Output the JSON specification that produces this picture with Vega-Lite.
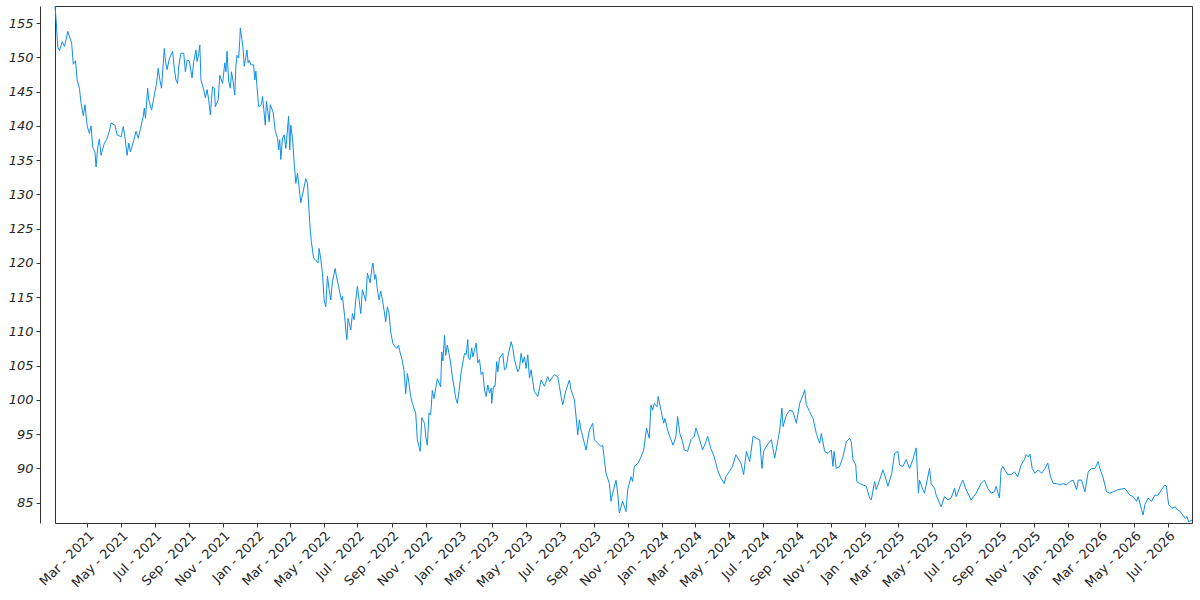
{
  "$schema": "https://vega.github.io/schema/vega-lite/v6.json",
  "width": 1137,
  "height": 517,
  "autosize": {"type": "none"},
  "padding": {"left": 55, "top": 6, "right": 8, "bottom": 77},
  "background": "white",
  "config": {
    "view": {"stroke": "#333333", "strokeWidth": 1},
    "font": "DejaVu Sans",
    "axis": {"grid": false, "labelFont": "DejaVu Sans", "labelColor": "#262626", "labelFontSize": 12, "tickColor": "#333333", "domainColor": "#333333"}
  },
  "data": {"values": [
    {"date":"2021-01-02","value":157.5},{"date":"2021-01-04","value":155.5},{"date":"2021-01-07","value":151.5},{"date":"2021-01-10","value":151.0},{"date":"2021-01-15","value":152.3},{"date":"2021-01-19","value":151.6},{"date":"2021-01-22","value":152.6},{"date":"2021-01-25","value":153.8},
    {"date":"2021-02-01","value":152.1},{"date":"2021-02-04","value":149.0},{"date":"2021-02-08","value":149.5},{"date":"2021-02-11","value":146.7},{"date":"2021-02-15","value":145.5},{"date":"2021-02-18","value":143.3},{"date":"2021-02-22","value":141.5},{"date":"2021-02-25","value":143.1},
    {"date":"2021-03-01","value":140.0},{"date":"2021-03-05","value":138.9},{"date":"2021-03-08","value":140.0},{"date":"2021-03-11","value":136.9},{"date":"2021-03-15","value":136.2},{"date":"2021-03-17","value":134.0},{"date":"2021-03-20","value":136.9},{"date":"2021-03-23","value":138.1},{"date":"2021-03-26","value":135.7},
    {"date":"2021-04-01","value":137.5},{"date":"2021-04-05","value":138.0},{"date":"2021-04-10","value":139.2},{"date":"2021-04-13","value":140.4},{"date":"2021-04-20","value":140.1},{"date":"2021-04-24","value":138.7},
    {"date":"2021-05-01","value":138.4},{"date":"2021-05-05","value":139.9},{"date":"2021-05-08","value":138.4},{"date":"2021-05-12","value":135.7},{"date":"2021-05-15","value":137.5},{"date":"2021-05-18","value":136.2},{"date":"2021-05-24","value":137.9},{"date":"2021-05-28","value":139.2},
    {"date":"2021-06-01","value":138.2},{"date":"2021-06-05","value":139.6},{"date":"2021-06-10","value":141.4},{"date":"2021-06-12","value":142.6},{"date":"2021-06-14","value":141.1},{"date":"2021-06-18","value":145.5},{"date":"2021-06-20","value":143.8},{"date":"2021-06-25","value":142.3},{"date":"2021-06-30","value":144.5},
    {"date":"2021-07-04","value":146.2},{"date":"2021-07-07","value":148.4},{"date":"2021-07-10","value":146.7},{"date":"2021-07-13","value":145.5},{"date":"2021-07-18","value":151.3},{"date":"2021-07-20","value":149.5},{"date":"2021-07-23","value":148.2},{"date":"2021-07-27","value":149.8},
    {"date":"2021-08-02","value":150.9},{"date":"2021-08-05","value":148.4},{"date":"2021-08-08","value":146.7},{"date":"2021-08-11","value":146.2},{"date":"2021-08-13","value":148.7},{"date":"2021-08-17","value":150.6},{"date":"2021-08-22","value":150.6},{"date":"2021-08-25","value":147.9},{"date":"2021-08-28","value":149.6},
    {"date":"2021-09-01","value":149.5},{"date":"2021-09-06","value":147.0},{"date":"2021-09-09","value":149.4},{"date":"2021-09-13","value":151.1},{"date":"2021-09-15","value":149.4},{"date":"2021-09-18","value":150.6},{"date":"2021-09-20","value":151.8},{"date":"2021-09-22","value":146.7},{"date":"2021-09-27","value":145.3},{"date":"2021-09-30","value":144.1},
    {"date":"2021-10-03","value":145.3},{"date":"2021-10-06","value":143.8},{"date":"2021-10-09","value":141.6},{"date":"2021-10-11","value":143.8},{"date":"2021-10-13","value":145.7},{"date":"2021-10-16","value":145.5},{"date":"2021-10-18","value":142.8},{"date":"2021-10-23","value":143.8},{"date":"2021-10-26","value":147.4},{"date":"2021-10-31","value":146.2},
    {"date":"2021-11-04","value":149.2},{"date":"2021-11-06","value":147.9},{"date":"2021-11-08","value":150.9},{"date":"2021-11-11","value":146.5},{"date":"2021-11-14","value":145.5},{"date":"2021-11-16","value":147.9},{"date":"2021-11-19","value":146.5},{"date":"2021-11-22","value":144.5},{"date":"2021-11-24","value":148.7},{"date":"2021-11-26","value":150.3},{"date":"2021-11-29","value":149.9},
    {"date":"2021-12-01","value":152.6},{"date":"2021-12-02","value":154.3},{"date":"2021-12-05","value":152.6},{"date":"2021-12-07","value":151.1},{"date":"2021-12-09","value":148.7},{"date":"2021-12-11","value":149.6},{"date":"2021-12-14","value":151.1},{"date":"2021-12-16","value":149.2},{"date":"2021-12-18","value":149.6},{"date":"2021-12-21","value":148.9},{"date":"2021-12-26","value":148.9},{"date":"2021-12-28","value":146.7},{"date":"2021-12-30","value":148.0},
    {"date":"2022-01-01","value":145.7},{"date":"2022-01-04","value":142.8},{"date":"2022-01-09","value":143.1},{"date":"2022-01-11","value":144.3},{"date":"2022-01-16","value":140.1},{"date":"2022-01-18","value":143.6},{"date":"2022-01-23","value":140.6},{"date":"2022-01-25","value":143.1},{"date":"2022-01-30","value":142.0},
    {"date":"2022-02-03","value":139.2},{"date":"2022-02-07","value":138.2},{"date":"2022-02-09","value":136.5},{"date":"2022-02-11","value":138.0},{"date":"2022-02-13","value":135.1},{"date":"2022-02-16","value":138.2},{"date":"2022-02-19","value":138.7},{"date":"2022-02-22","value":136.7},{"date":"2022-02-27","value":141.4},
    {"date":"2022-03-01","value":136.5},{"date":"2022-03-03","value":140.1},{"date":"2022-03-06","value":138.2},{"date":"2022-03-09","value":134.6},{"date":"2022-03-12","value":131.6},{"date":"2022-03-15","value":133.1},{"date":"2022-03-21","value":128.8},{"date":"2022-03-27","value":131.1},{"date":"2022-03-30","value":132.3},
    {"date":"2022-04-02","value":131.6},{"date":"2022-04-05","value":127.3},{"date":"2022-04-07","value":124.8},{"date":"2022-04-09","value":123.1},{"date":"2022-04-13","value":120.7},{"date":"2022-04-16","value":120.5},{"date":"2022-04-21","value":120.0},{"date":"2022-04-23","value":122.1},{"date":"2022-04-26","value":120.5},{"date":"2022-04-29","value":118.5},
    {"date":"2022-05-02","value":114.6},{"date":"2022-05-05","value":113.6},{"date":"2022-05-08","value":118.1},{"date":"2022-05-11","value":116.1},{"date":"2022-05-14","value":114.6},{"date":"2022-05-17","value":117.3},{"date":"2022-05-22","value":119.2},{"date":"2022-05-24","value":118.1},{"date":"2022-05-28","value":116.6},
    {"date":"2022-06-02","value":114.6},{"date":"2022-06-04","value":115.1},{"date":"2022-06-08","value":112.2},{"date":"2022-06-10","value":110.2},{"date":"2022-06-12","value":108.8},{"date":"2022-06-14","value":111.9},{"date":"2022-06-19","value":110.2},{"date":"2022-06-22","value":112.6},{"date":"2022-06-25","value":111.7},{"date":"2022-06-28","value":114.6},
    {"date":"2022-07-01","value":116.6},{"date":"2022-07-04","value":114.6},{"date":"2022-07-07","value":112.6},{"date":"2022-07-10","value":116.1},{"date":"2022-07-16","value":114.4},{"date":"2022-07-19","value":118.5},{"date":"2022-07-24","value":117.1},{"date":"2022-07-27","value":119.2},{"date":"2022-07-29","value":120.0},
    {"date":"2022-08-01","value":117.6},{"date":"2022-08-03","value":118.3},{"date":"2022-08-06","value":116.1},{"date":"2022-08-09","value":114.6},{"date":"2022-08-12","value":115.9},{"date":"2022-08-15","value":114.6},{"date":"2022-08-18","value":113.1},{"date":"2022-08-21","value":111.4},{"date":"2022-08-24","value":113.6},{"date":"2022-08-27","value":112.6},{"date":"2022-08-30","value":109.9},
    {"date":"2022-09-03","value":108.2},{"date":"2022-09-10","value":107.5},{"date":"2022-09-13","value":108.0},{"date":"2022-09-15","value":107.2},{"date":"2022-09-20","value":105.7},{"date":"2022-09-23","value":104.3},{"date":"2022-09-26","value":100.9},{"date":"2022-09-29","value":103.9},
    {"date":"2022-10-02","value":102.4},{"date":"2022-10-05","value":100.5},{"date":"2022-10-08","value":99.5},{"date":"2022-10-14","value":98.1},{"date":"2022-10-17","value":94.2},{"date":"2022-10-20","value":93.2},{"date":"2022-10-22","value":92.5},{"date":"2022-10-25","value":97.4},{"date":"2022-10-30","value":96.6},
    {"date":"2022-11-01","value":94.7},{"date":"2022-11-04","value":93.4},{"date":"2022-11-07","value":98.1},{"date":"2022-11-10","value":97.8},{"date":"2022-11-13","value":101.4},{"date":"2022-11-16","value":100.2},{"date":"2022-11-22","value":103.1},{"date":"2022-11-28","value":101.9},{"date":"2022-11-30","value":107.0},
    {"date":"2022-12-02","value":105.7},{"date":"2022-12-05","value":109.4},{"date":"2022-12-07","value":106.5},{"date":"2022-12-10","value":108.0},{"date":"2022-12-13","value":106.8},{"date":"2022-12-16","value":105.4},{"date":"2022-12-19","value":103.4},{"date":"2022-12-22","value":102.0},{"date":"2022-12-25","value":100.3},{"date":"2022-12-28","value":99.5},{"date":"2022-12-31","value":101.2},
    {"date":"2023-01-04","value":104.1},{"date":"2023-01-08","value":105.9},{"date":"2023-01-10","value":106.8},{"date":"2023-01-13","value":106.6},{"date":"2023-01-16","value":108.8},{"date":"2023-01-17","value":106.1},{"date":"2023-01-20","value":105.9},{"date":"2023-01-23","value":107.6},{"date":"2023-01-25","value":106.3},{"date":"2023-01-31","value":108.3},
    {"date":"2023-02-03","value":105.4},{"date":"2023-02-06","value":105.9},{"date":"2023-02-09","value":103.7},{"date":"2023-02-12","value":104.1},{"date":"2023-02-15","value":101.5},{"date":"2023-02-18","value":100.5},{"date":"2023-02-21","value":102.2},{"date":"2023-02-24","value":101.0},{"date":"2023-02-27","value":101.7},{"date":"2023-02-28","value":99.5},
    {"date":"2023-03-03","value":102.0},{"date":"2023-03-06","value":102.0},{"date":"2023-03-09","value":105.6},{"date":"2023-03-11","value":104.1},{"date":"2023-03-14","value":106.1},{"date":"2023-03-20","value":106.8},{"date":"2023-03-23","value":104.4},{"date":"2023-03-26","value":104.6},{"date":"2023-03-29","value":106.3},
    {"date":"2023-04-04","value":108.5},{"date":"2023-04-07","value":107.6},{"date":"2023-04-10","value":105.9},{"date":"2023-04-16","value":104.1},{"date":"2023-04-19","value":104.6},{"date":"2023-04-22","value":106.8},{"date":"2023-04-25","value":105.4},{"date":"2023-04-28","value":106.3},
    {"date":"2023-05-01","value":104.6},{"date":"2023-05-04","value":106.6},{"date":"2023-05-07","value":103.2},{"date":"2023-05-10","value":104.4},{"date":"2023-05-13","value":102.7},{"date":"2023-05-16","value":101.2},{"date":"2023-05-22","value":100.5},{"date":"2023-05-28","value":102.9},
    {"date":"2023-06-03","value":102.0},{"date":"2023-06-09","value":103.4},{"date":"2023-06-12","value":102.7},{"date":"2023-06-21","value":103.7},{"date":"2023-06-27","value":103.4},{"date":"2023-06-30","value":102.0},
    {"date":"2023-07-03","value":100.5},{"date":"2023-07-06","value":99.3},{"date":"2023-07-12","value":101.5},{"date":"2023-07-18","value":102.9},{"date":"2023-07-21","value":101.5},{"date":"2023-07-27","value":100.0},{"date":"2023-07-30","value":97.6},
    {"date":"2023-08-02","value":94.9},{"date":"2023-08-05","value":97.1},{"date":"2023-08-08","value":95.6},{"date":"2023-08-14","value":93.7},{"date":"2023-08-17","value":92.7},{"date":"2023-08-23","value":95.6},{"date":"2023-08-29","value":96.6},
    {"date":"2023-09-01","value":94.2},{"date":"2023-09-07","value":93.7},{"date":"2023-09-13","value":93.2},{"date":"2023-09-16","value":93.4},{"date":"2023-09-19","value":91.3},{"date":"2023-09-22","value":89.3},{"date":"2023-09-28","value":87.8},
    {"date":"2023-10-01","value":85.2},{"date":"2023-10-04","value":86.4},{"date":"2023-10-10","value":88.3},{"date":"2023-10-13","value":86.4},{"date":"2023-10-16","value":83.5},{"date":"2023-10-22","value":85.2},{"date":"2023-10-28","value":83.7},{"date":"2023-10-31","value":86.9},
    {"date":"2023-11-06","value":88.8},{"date":"2023-11-09","value":88.1},{"date":"2023-11-12","value":90.3},{"date":"2023-11-19","value":90.8},{"date":"2023-11-24","value":91.7},{"date":"2023-11-29","value":92.7},
    {"date":"2023-12-04","value":95.9},{"date":"2023-12-09","value":94.4},{"date":"2023-12-12","value":99.3},{"date":"2023-12-15","value":98.5},{"date":"2023-12-18","value":99.5},{"date":"2023-12-23","value":99.0},{"date":"2023-12-25","value":100.5},{"date":"2023-12-30","value":98.5},
    {"date":"2024-01-04","value":96.6},{"date":"2024-01-06","value":97.3},{"date":"2024-01-11","value":95.6},{"date":"2024-01-16","value":94.4},{"date":"2024-01-21","value":93.4},{"date":"2024-01-26","value":94.7},{"date":"2024-01-29","value":97.6},
    {"date":"2024-02-02","value":95.1},{"date":"2024-02-07","value":93.9},{"date":"2024-02-10","value":92.7},{"date":"2024-02-16","value":92.5},{"date":"2024-02-22","value":94.2},{"date":"2024-02-28","value":94.7},
    {"date":"2024-03-02","value":95.9},{"date":"2024-03-08","value":94.4},{"date":"2024-03-14","value":92.7},{"date":"2024-03-20","value":93.9},{"date":"2024-03-23","value":94.7},{"date":"2024-03-29","value":92.9},
    {"date":"2024-04-04","value":91.7},{"date":"2024-04-10","value":89.8},{"date":"2024-04-16","value":88.6},{"date":"2024-04-22","value":87.8},{"date":"2024-04-25","value":88.8},
    {"date":"2024-05-01","value":89.5},{"date":"2024-05-07","value":90.3},{"date":"2024-05-13","value":92.0},{"date":"2024-05-22","value":90.8},{"date":"2024-05-27","value":89.1},
    {"date":"2024-06-01","value":92.5},{"date":"2024-06-07","value":91.0},{"date":"2024-06-13","value":94.7},{"date":"2024-06-19","value":94.4},{"date":"2024-06-25","value":94.2},{"date":"2024-06-29","value":90.0},
    {"date":"2024-07-02","value":92.5},{"date":"2024-07-08","value":93.4},{"date":"2024-07-16","value":94.2},{"date":"2024-07-22","value":91.5},{"date":"2024-07-28","value":94.2},{"date":"2024-07-31","value":95.6},
    {"date":"2024-08-04","value":98.8},{"date":"2024-08-06","value":96.1},{"date":"2024-08-12","value":97.8},{"date":"2024-08-18","value":98.5},{"date":"2024-08-24","value":98.3},{"date":"2024-08-30","value":96.6},
    {"date":"2024-09-05","value":99.5},{"date":"2024-09-11","value":100.7},{"date":"2024-09-14","value":101.5},{"date":"2024-09-17","value":99.3},{"date":"2024-09-23","value":98.3},{"date":"2024-09-29","value":97.3},
    {"date":"2024-10-05","value":95.1},{"date":"2024-10-11","value":93.7},{"date":"2024-10-14","value":95.1},{"date":"2024-10-20","value":92.5},{"date":"2024-10-26","value":92.2},
    {"date":"2024-11-01","value":92.7},{"date":"2024-11-04","value":90.3},{"date":"2024-11-06","value":92.5},{"date":"2024-11-10","value":90.0},{"date":"2024-11-16","value":90.3},{"date":"2024-11-22","value":91.7},{"date":"2024-11-28","value":93.9},
    {"date":"2024-12-04","value":94.4},{"date":"2024-12-07","value":93.9},{"date":"2024-12-10","value":91.3},{"date":"2024-12-15","value":90.5},{"date":"2024-12-17","value":88.1},{"date":"2024-12-22","value":87.8},{"date":"2024-12-28","value":87.6},
    {"date":"2025-01-03","value":87.4},{"date":"2025-01-09","value":85.7},{"date":"2025-01-12","value":85.4},{"date":"2025-01-18","value":88.1},{"date":"2025-01-21","value":86.9},{"date":"2025-01-27","value":88.3},
    {"date":"2025-02-02","value":89.8},{"date":"2025-02-08","value":88.3},{"date":"2025-02-11","value":87.4},{"date":"2025-02-18","value":89.3},{"date":"2025-02-23","value":92.2},
    {"date":"2025-03-01","value":92.5},{"date":"2025-03-04","value":90.5},{"date":"2025-03-10","value":90.3},{"date":"2025-03-16","value":91.3},{"date":"2025-03-22","value":90.0},{"date":"2025-03-28","value":91.3},
    {"date":"2025-04-03","value":93.0},{"date":"2025-04-07","value":86.4},{"date":"2025-04-09","value":88.3},{"date":"2025-04-15","value":86.9},{"date":"2025-04-18","value":86.4},{"date":"2025-04-27","value":90.0},{"date":"2025-04-30","value":87.8},
    {"date":"2025-05-06","value":87.1},{"date":"2025-05-09","value":86.1},{"date":"2025-05-18","value":84.4},{"date":"2025-05-24","value":85.9},{"date":"2025-05-30","value":85.4},
    {"date":"2025-06-05","value":85.7},{"date":"2025-06-11","value":87.1},{"date":"2025-06-14","value":85.9},{"date":"2025-06-23","value":87.8},{"date":"2025-06-26","value":88.3},
    {"date":"2025-07-02","value":86.9},{"date":"2025-07-11","value":85.4},{"date":"2025-07-20","value":86.4},{"date":"2025-07-29","value":87.8},
    {"date":"2025-08-04","value":88.3},{"date":"2025-08-10","value":87.1},{"date":"2025-08-16","value":86.4},{"date":"2025-08-22","value":86.6},{"date":"2025-08-25","value":87.4},{"date":"2025-08-31","value":85.7},
    {"date":"2025-09-03","value":89.8},{"date":"2025-09-06","value":90.3},{"date":"2025-09-15","value":89.1},{"date":"2025-09-21","value":89.1},{"date":"2025-09-27","value":89.5},
    {"date":"2025-10-03","value":88.8},{"date":"2025-10-09","value":90.5},{"date":"2025-10-15","value":91.3},{"date":"2025-10-18","value":92.0},{"date":"2025-10-22","value":91.7},{"date":"2025-10-25","value":92.1},{"date":"2025-10-29","value":90.0},
    {"date":"2025-11-03","value":89.3},{"date":"2025-11-09","value":89.8},{"date":"2025-11-15","value":89.3},{"date":"2025-11-21","value":90.0},{"date":"2025-11-26","value":90.8},
    {"date":"2025-12-01","value":88.8},{"date":"2025-12-06","value":87.8},{"date":"2025-12-12","value":87.8},{"date":"2025-12-18","value":87.6},{"date":"2025-12-24","value":87.8},{"date":"2025-12-30","value":87.6},
    {"date":"2026-01-05","value":88.1},{"date":"2026-01-11","value":88.3},{"date":"2026-01-17","value":86.9},{"date":"2026-01-20","value":88.3},{"date":"2026-01-26","value":88.3},
    {"date":"2026-02-01","value":86.6},{"date":"2026-02-07","value":89.5},{"date":"2026-02-13","value":90.0},{"date":"2026-02-19","value":90.0},{"date":"2026-02-25","value":91.0},{"date":"2026-02-28","value":90.0},
    {"date":"2026-03-06","value":88.6},{"date":"2026-03-12","value":86.6},{"date":"2026-03-18","value":86.4},{"date":"2026-03-24","value":86.6},
    {"date":"2026-04-02","value":86.9},{"date":"2026-04-14","value":87.1},{"date":"2026-04-23","value":86.1},{"date":"2026-04-29","value":85.9},
    {"date":"2026-05-05","value":85.2},{"date":"2026-05-08","value":85.9},{"date":"2026-05-14","value":84.0},{"date":"2026-05-17","value":83.2},{"date":"2026-05-20","value":84.7},{"date":"2026-05-26","value":85.7},
    {"date":"2026-06-01","value":85.2},{"date":"2026-06-07","value":86.1},{"date":"2026-06-13","value":86.1},{"date":"2026-06-19","value":86.9},{"date":"2026-06-25","value":87.6},{"date":"2026-06-28","value":87.4},{"date":"2026-06-30","value":85.9},
    {"date":"2026-07-02","value":84.7},{"date":"2026-07-08","value":84.2},{"date":"2026-07-14","value":84.4},{"date":"2026-07-17","value":84.0},{"date":"2026-07-23","value":83.7},{"date":"2026-07-29","value":83.0},
    {"date":"2026-08-01","value":82.7},{"date":"2026-08-04","value":83.0},{"date":"2026-08-07","value":82.2},{"date":"2026-08-13","value":82.5}
  ]},
  "mark": {"type": "line", "color": "#108ee9", "strokeWidth": 1, "interpolate": "linear"},
  "encoding": {
    "x": {
      "field": "date",
      "type": "temporal",
      "title": null,
      "scale": {"nice": false},
      "axis": {
        "format": "%b - %Y",
        "tickCount": {"interval": "month", "step": 2},
        "labelAngle": -45,
        "labelAlign": "right",
        "labelBaseline": "top",
        "labelPadding": 2,
        "labelFontSize": 13,
        "labelOverlap": false,
        "labelFlush": false,
        "tickSize": 4,
        "domain": false
      }
    },
    "y": {
      "field": "value",
      "type": "quantitative",
      "title": null,
      "scale": {"domain": [82.04, 157.5], "nice": false, "zero": false},
      "axis": {
        "values": [85, 90, 95, 100, 105, 110, 115, 120, 125, 130, 135, 140, 145, 150, 155],
        "offset": 15,
        "tickSize": 4,
        "labelPadding": 3,
        "labelFontSize": 13,
        "labelFontStyle": "italic",
        "domain": true
      }
    }
  }
}
